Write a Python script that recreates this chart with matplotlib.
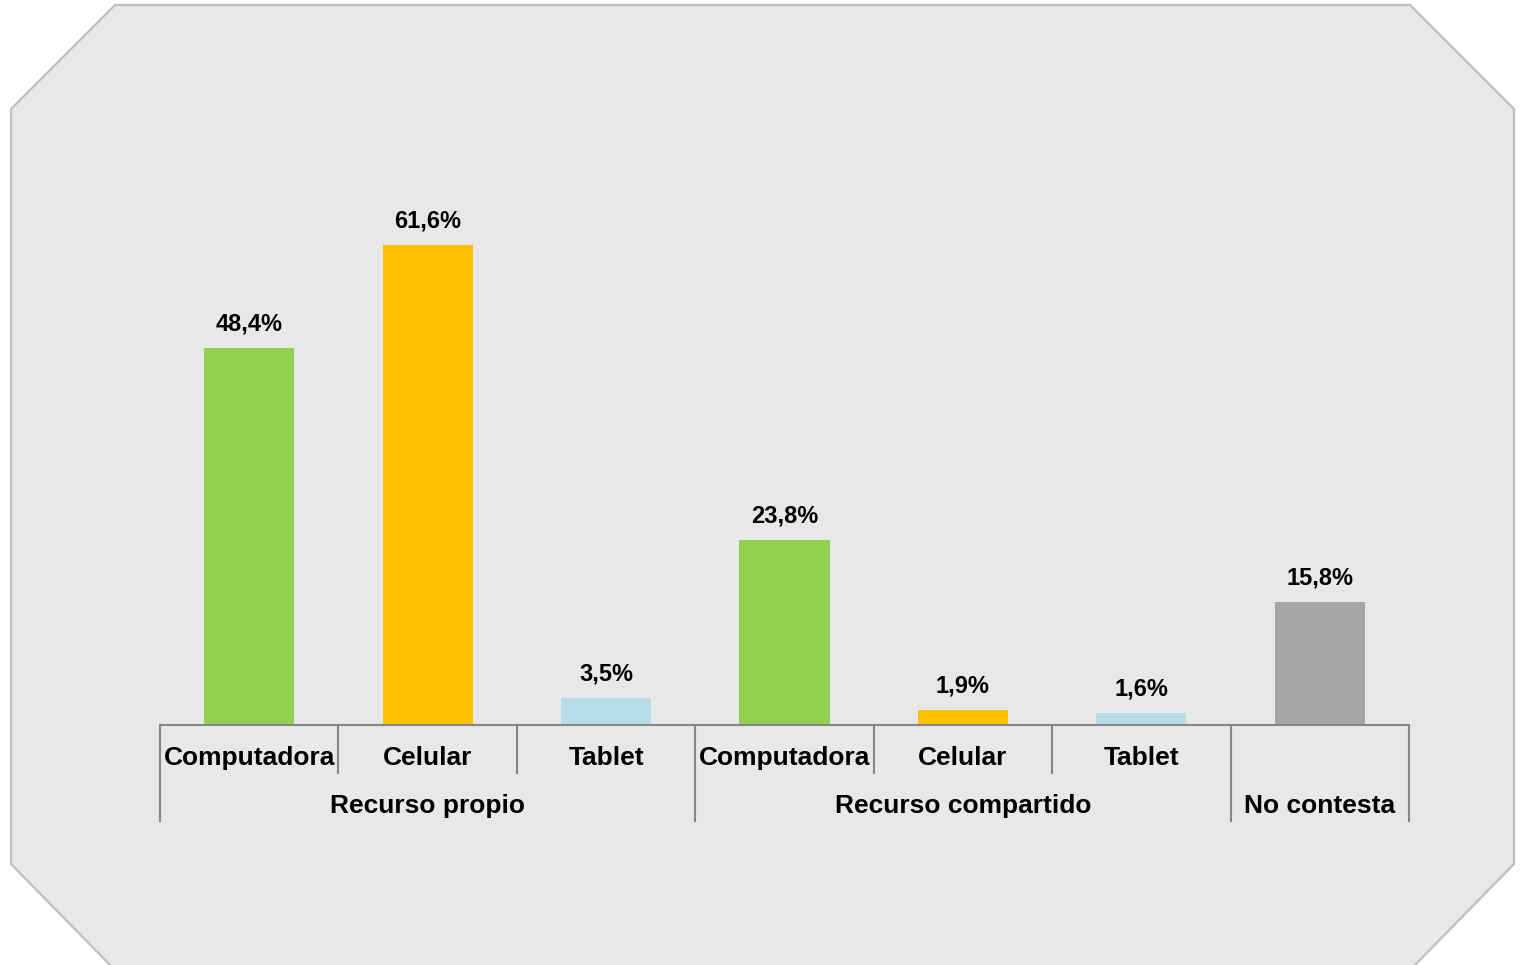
import matplotlib.pyplot as plt
import matplotlib.patches as patches

W = 1521.
H = 965.

# data
subcats = ["Computadora", "Celular", "Tablet", "Computadora", "Celular", "Tablet", ""]
groups = ["Recurso propio", "Recurso compartido", "No contesta"]
group_span = [(0, 3), (3, 6), (6, 7)]   # category index range of each group
values = [48.4, 61.6, 3.5, 23.8, 1.9, 1.6, 15.8]
labels = ["48,4%", "61,6%", "3,5%", "23,8%", "1,9%", "1,6%", "15,8%"]
colors = ["#92D050", "#FFC000", "#B7DEE8", "#92D050", "#FFC000", "#B7DEE8", "#A6A6A6"]

plt.rcParams['font.family'] = ['Liberation Sans', 'DejaVu Sans']

fig = plt.figure(figsize=(W/100, H/100), dpi=100)

def px(x, y):
	return (x/W, 1 - y/H)

# octagon background
octo = [(115, 5), (1410, 5), (1514, 109), (1514, 864), (1413, 967),
	(112, 967), (11, 864), (11, 109)]
fig.patches.append(patches.Polygon(
	[px(x, y) for x, y in octo],
	closed=True,
	transform=fig.transFigure,
	facecolor="#E8E8E8",
	edgecolor="#BFBFBF",
	lw=1.6,
	zorder=-10
))

# axes: x 160..1409, baseline at y=725
ax_top = 102.
ax_h = 725. - ax_top
ax = fig.add_axes([160/W, (H-725)/H, 1249/W, ax_h/H])
ax.patch.set_visible(False)
ax.set_xlim(-0.5, len(values) - 0.5)
ax.set_ylim(0, 80)
for s in ["top", "right", "left"]:
	ax.spines[s].set_visible(False)
ax.spines["bottom"].set_color("#868686")
ax.spines["bottom"].set_linewidth(1.5)
ax.set_xticks([])
ax.set_yticks([])

x = list(range(len(values)))
bars = ax.bar(x, values, width=0.505, color=colors, zorder=2)

for xi, v, lab in zip(x, values, labels):
	ax.annotate(lab, (xi, v), xytext=(0, 17.3), textcoords="offset points",
		ha="center", va="center", fontsize=17, fontweight="bold")

tr = ax.get_xaxis_transform()
short = -48. / ax_h
long_ = -96. / ax_h

# separators
group_edges = set()
for a, b in group_span:
	group_edges.add(a - 0.5)
	group_edges.add(b - 0.5)
for k in range(len(values) + 1):
	xe = k - 0.5
	yb = long_ if xe in group_edges else short
	ax.plot([xe, xe], [0, yb], color="#868686", lw=1.5, transform=tr, clip_on=False)

# sub category labels
for xi, s in zip(x, subcats):
	ax.text(xi, -33. / ax_h, s, transform=tr, ha="center", va="center",
		fontsize=19, fontweight="bold")

# group labels
for g, (a, b) in zip(groups, group_span):
	ax.text((a + b - 1) / 2., -81. / ax_h, g, transform=tr, ha="center", va="center",
		fontsize=19, fontweight="bold")

plt.savefig("out.png", dpi=100)
